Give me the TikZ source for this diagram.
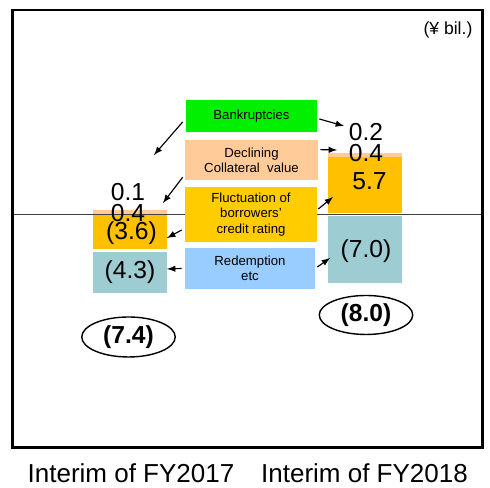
\documentclass[tikz,border=0pt]{standalone}
\usepackage{fontspec}
\setmainfont{Liberation Sans}
\usetikzlibrary{arrows}
\usetikzlibrary{shapes.geometric}

\begin{document}
\begin{tikzpicture}[
    box/.style={minimum width=2.64cm, inner sep=0pt, align=center, font=\fontsize{7.5}{8.6}\selectfont},
    num/.style={inner sep=0pt, font=\fontsize{14}{16}\selectfont},
    summe/.style={ellipse, draw, thick, inner sep=0pt, minimum width=1.87cm, font=\fontsize{14}{16}\selectfont\bfseries},
    pfeil/.style={->, >=latex, line width=0.65pt}
  ]
    \definecolor{bankrupt}{HTML}{00F000}
    \definecolor{collateral}{HTML}{FFCC99}
    \definecolor{rating}{HTML}{FFCC00}
    \definecolor{barorange}{HTML}{FFC000}
    \definecolor{redemption}{HTML}{99CCFF}
    \definecolor{barteal}{HTML}{9DCCD2}
    \useasboundingbox (0cm,0cm) rectangle (9.8cm,9.76cm);
    \foreach \x/\a/\b/\c/\d/\e/\f in  %Balken
    {
      1.86/3.90/4.72/4.78/5.46/5.46/5.56,
      6.56/4.10/5.44/5.50/6.62/6.62/6.70
    }
    {
      \fill[barteal] (\x cm,\a cm) rectangle (\x cm + 1.48cm,\b cm);
      \fill[barorange] (\x cm,\c cm) rectangle (\x cm + 1.48cm,\d cm);
      \fill[collateral] (\x cm,\e cm) rectangle (\x cm + 1.48cm,\f cm);
    };
    \draw[black!75] (0.25cm,5.48cm) -- (9.65cm,5.48cm);  %Nulllinie
    \draw[line width=1.2pt] (0.25cm,0.81cm) rectangle (9.65cm,9.56cm);  %Rahmen
    \node[font=\fontsize{10}{12}\selectfont] (unit) at (8.96cm,9.16cm) {(¥ bil.)};
    % Ursachen
    \node[box, fill=bankrupt, minimum width=2.62cm, minimum height=0.64cm] (bank) at (5.03cm,7.44cm) {Bankruptcies};
    \node[box, fill=collateral, minimum width=2.66cm, minimum height=0.80cm] (coll) at (5.03cm,6.56cm) {Declining\\Collateral~ value};
    \node[box, fill=rating, minimum height=1.10cm] (rating) at (5.02cm,5.47cm) {Fluctuation of\\borrowers'\\credit rating};
    \node[box, fill=redemption, minimum width=2.60cm, minimum height=0.82cm] (redem) at (5.00cm,4.39cm) {Redemption\\etc};
    % Werte
    \node[num] (l01) at (2.56cm,5.92cm) {0.1};
    \node[num] (l04) at (2.56cm,5.50cm) {0.4};
    \node[num] (l36) at (2.63cm,5.10cm) {(3.6)};
    \node[num] (l43) at (2.60cm,4.32cm) {(4.3)};
    \node[num] (r02) at (7.32cm,7.11cm) {0.2};
    \node[num] (r04) at (7.32cm,6.69cm) {0.4};
    \node[num] (r57) at (7.39cm,6.13cm) {5.7};
    \node[num] (r70) at (7.32cm,4.73cm) {(7.0)};
    \node[summe, minimum height=0.80cm] (sum17) at (2.57cm,3.02cm) {(7.4)};
    \node[summe, minimum height=0.78cm] (sum18) at (7.32cm,3.46cm) {(8.0)};
    \node[font=\fontsize{14.8}{17}\selectfont] (fy17) at (2.62cm,0.30cm) {Interim of FY2017};
    \node[font=\fontsize{14.8}{17}\selectfont] (fy18) at (7.29cm,0.30cm) {Interim of FY2018};
    % Pfeilspitzen
    \coordinate (bankL) at (3.08cm,6.66cm);
    \coordinate (collL) at (3.26cm,5.70cm);
    \coordinate (ratingL) at (3.34cm,5.00cm);
    \coordinate (redemL) at (3.34cm,4.38cm);
    \coordinate (bankR) at (6.88cm,7.24cm);
    \coordinate (collR) at (6.74cm,6.76cm);
    \coordinate (ratingR) at (6.66cm,5.82cm);
    \coordinate (redemR) at (6.60cm,4.60cm);
    \draw[pfeil] ([shift={(-0.06cm,-0.12cm)}]bank.west) -- (bankL);
    \draw[pfeil] ([shift={(-0.04cm,0.06cm)}]coll.south west) -- (collL);
    \draw[pfeil] ([shift={(-0.06cm,-0.31cm)}]rating.west) -- (ratingL);
    \draw[pfeil] ([shift={(-0.06cm,0cm)}]redem.west) -- (redemL);
    \draw[pfeil] ([shift={(0.04cm,-0.06cm)}]bank.east) -- (bankR);
    \draw[pfeil] ([shift={(0.04cm,-0.20cm)}]coll.north east) -- (collR);
    \draw[pfeil] ([shift={(0.02cm,0.11cm)}]rating.east) -- (ratingR);
    \draw[pfeil] ([shift={(0.04cm,0.03cm)}]redem.east) -- (redemR);
\end{tikzpicture}
\end{document}
